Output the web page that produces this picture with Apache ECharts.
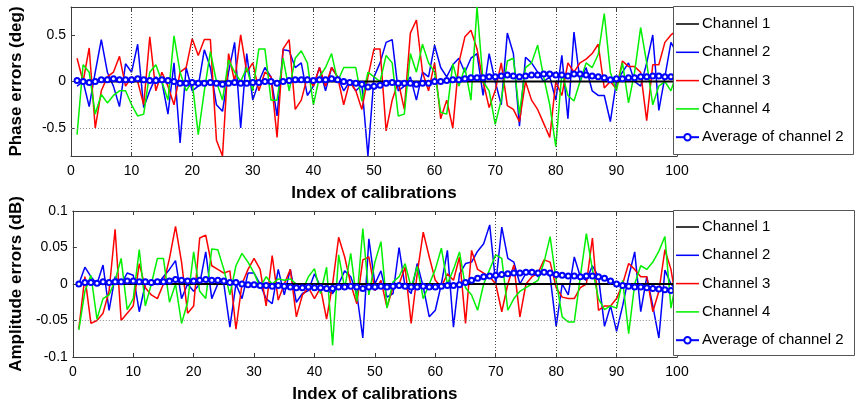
<!DOCTYPE html>
<html><head><meta charset="utf-8">
<script src="https://cdn.jsdelivr.net/npm/echarts@6/dist/echarts.min.js"></script>
<style>html,body{margin:0;padding:0;background:#fff}#c{width:857px;height:407px}</style>
</head><body><div id="c"></div>
<script>
// ---------- data ----------
const seriesNames = ['Channel 1', 'Channel 2', 'Channel 3', 'Channel 4', 'Average of channel 2'];
const xTitle = 'Index of calibrations';
const phaseTitle = 'Phase errors (deg)';
const ampTitle = 'Amplitude errors (dB)';
const phaseTicks = [-0.5, 0, 0.5];
const ampTicks = [-0.1, -0.05, 0, 0.05, 0.1];
const phaseGridX = [10, 20, 30, 40, 50, 60, 70, 80, 90];
const phaseGridY = [-0.5];
const ampGridX = [70, 80, 90];
const ampGridY = [-0.05];

const phaseCh1 = [0,0,0,0,0,0,0,0,0,0, 0,0,0,0,0,0,0,0,0,0, 0,0,0,0,0,0,0,0,0,0, 0,0,0,0,0,0,0,0,0,0, 0,0,0,0,0,0,0,0,0,0,
  0,0,0,0,0,0,0,0,0,0, 0,0,0,0,0,0,0,0,0,0, 0,0,0,0,0,0,0,0,0,0, 0,0,0,0,0,0,0,0,0,0, 0,0,0,0,0,0,0,0,0,0];
const phaseCh2 = [-0.05,0.0,-0.27,0.1,0.45,0.1,-0.05,-0.27,0.19,0.1,
  0.4,-0.28,-0.1,0.05,0.0,-0.35,0.2,-0.66,0.15,-0.1,
  -0.05,0.34,0.15,-0.25,-0.32,0.1,0.42,-0.5,0.3,-0.2,
  0.0,0.15,0.05,-0.37,0.34,0.33,0.15,0.2,-0.15,-0.05,
  0.15,-0.1,0.15,0.05,-0.1,0.0,-0.1,-0.04,-0.8,0.05,
  0.2,0.42,0.45,-0.1,-0.05,0.05,-0.2,0.1,0.05,0.39,
  0.15,0.05,0.18,0.25,0.1,0.25,0.3,-0.15,0.3,0.0,
  -0.25,0.52,0.3,-0.48,0.26,0.2,0.1,0.0,0.05,-0.2,
  0.28,-0.4,0.53,0.0,0.15,-0.1,-0.15,-0.15,-0.43,0.0,
  0.1,0.2,0.0,-0.05,0.2,0.5,-0.31,0.05,0.42,0.3];
const phaseCh3 = [0.25,0.0,0.36,-0.5,-0.1,0.05,0.1,0.27,-0.05,0.05,
  0.0,-0.25,0.48,-0.1,0.1,-0.05,-0.25,0.1,0.15,0.46,
  0.28,0.45,0.45,-0.63,-0.8,0.3,0.0,0.5,0.1,0.2,
  -0.1,0.1,0.05,-0.6,0.35,0.45,-0.3,-0.2,0.05,-0.05,
  0.15,-0.05,0.15,0.05,-0.25,0.0,-0.1,-0.3,0.05,0.35,
  0.35,-0.53,-0.2,0.0,-0.3,0.52,0.66,0.1,-0.1,0.2,
  -0.4,-0.2,-0.5,0.2,0.48,0.55,0.35,0.0,-0.28,-0.1,
  0.2,-0.26,-0.3,-0.43,0.0,-0.2,-0.3,-0.45,-0.6,0.0,
  -0.15,0.2,0.1,0.2,0.24,0.3,0.4,-0.07,0.0,-0.08,
  0.22,0.16,0.16,0.1,-0.42,0.18,0.18,0.42,0.5,0.55];
const phaseCh4 = [-0.57,0.18,0.1,-0.35,-0.14,-0.23,-0.15,-0.1,-0.1,-0.25,
  -0.37,-0.35,0.1,0.18,0.0,-0.2,0.49,0.1,-0.1,0.0,
  -0.57,-0.1,0.32,0.0,-0.2,0.23,0.1,0.0,0.15,-0.1,
  0.35,0.35,-0.2,-0.2,0.25,-0.1,0.25,0.33,0.2,-0.25,
  0.05,0.15,0.3,0.0,0.15,0.15,0.15,-0.21,0.1,0.05,
  0.0,0.28,0.2,-0.37,-0.35,0.3,0.1,0.4,0.2,0.1,
  -0.33,-0.35,0.19,-0.05,0.15,-0.2,0.8,0.0,-0.1,-0.46,
  -0.2,0.22,0.25,-0.35,0.15,0.2,0.39,0.05,-0.25,-0.7,
  0.1,-0.15,-0.21,0.0,0.2,0.15,0.29,0.73,0.1,-0.1,
  0.2,-0.23,0.1,0.58,0.2,-0.25,-0.05,0.0,-0.1,0.1];
const phaseAvg = [0.01,0.0,-0.01,0.0,0.02,0.02,0.03,0.02,0.02,0.02,
  0.03,0.02,0.01,0.01,0.02,0.01,0.0,-0.02,-0.02,-0.01,
  -0.02,-0.02,-0.01,-0.02,-0.03,-0.02,-0.01,-0.02,-0.02,-0.01,
  -0.01,0.0,0.0,-0.02,0.0,0.01,0.02,0.02,0.02,0.01,
  0.02,0.02,0.03,0.02,0.0,-0.01,-0.02,-0.03,-0.06,-0.05,
  -0.04,-0.02,-0.01,-0.02,-0.02,-0.02,-0.03,-0.02,-0.02,0.0,
  0.0,0.01,0.02,0.02,0.03,0.04,0.04,0.04,0.05,0.05,
  0.06,0.07,0.06,0.05,0.06,0.07,0.07,0.08,0.08,0.07,
  0.07,0.06,0.08,0.08,0.07,0.06,0.05,0.04,0.02,0.03,
  0.03,0.04,0.04,0.05,0.05,0.06,0.06,0.05,0.05,0.05];

const ampCh1 = [0,0,0,0,0,0,0,0,0,0, 0,0,0,0,0,0,0,0,0,0, 0,0,0,0,0,0,0,0,0,0, 0,0,0,0,0,0,0,0,0,0, 0,0,0,0,0,0,0,0,0,0,
  0,0,0,0,0,0,0,0,0,0, 0,0,0,0,0,0,0,0,0,0, 0,0,0,0,0,0,0,0,0,0, 0,0,0,0,0,0,0,0,0,0, 0,0,0,0,0,0,0,0,0,0];
const ampCh2 = [0.0,0.023,0.01,0.0,0.026,-0.036,0.01,0.0,0.015,0.012,
  -0.038,0.0,0.0,0.0,0.01,0.02,0.032,-0.02,0.0,-0.01,
  0.0,0.044,-0.02,0.0,0.0,-0.059,0.0,-0.02,0.015,0.015,
  0.0,-0.02,-0.027,0.02,-0.015,0.02,-0.025,-0.013,-0.009,0.014,
  -0.004,-0.009,-0.013,0.0,0.018,0.01,-0.013,-0.074,0.062,0.0,
  0.018,-0.018,-0.013,0.05,-0.004,-0.013,0.028,-0.004,-0.045,-0.036,
  0.0,0.046,-0.059,0.014,0.028,0.03,0.045,0.055,0.081,0.0,
  0.078,0.035,0.03,0.0,0.015,0.02,0.01,0.02,0.01,-0.058,
  0.0,-0.015,0.037,0.01,0.005,0.025,0.01,-0.058,-0.03,-0.065,
  -0.03,0.01,0.044,-0.038,0.01,-0.03,-0.074,0.019,0.0,-0.01];
const ampCh3 = [-0.061,0.01,-0.054,-0.05,-0.04,-0.01,0.075,-0.05,-0.04,-0.03,
  0.028,-0.005,-0.015,-0.02,0.0,0.035,0.079,0.03,-0.04,-0.03,
  0.063,0.067,0.025,0.02,0.015,0.018,-0.062,0.0,0.02,0.035,
  0.02,-0.03,0.039,-0.022,0.0,0.02,-0.045,-0.015,-0.005,-0.02,
  -0.005,-0.048,0.0,0.064,0.037,0.0,-0.027,0.033,0.037,-0.009,
  0.005,-0.032,-0.004,0.0,0.023,-0.054,0.014,0.071,0.037,0.005,
  -0.004,0.014,0.005,0.037,-0.054,0.046,0.02,0.015,0.01,0.0,
  -0.038,0.0,0.026,-0.045,0.0,0.01,0.015,0.033,0.03,-0.005,
  -0.018,-0.02,-0.02,-0.005,0.0,0.063,-0.036,-0.03,-0.03,-0.02,
  0.0,0.028,0.02,0.01,0.01,-0.038,-0.01,0.047,0.02,-0.03];
const ampCh4 = [-0.063,-0.01,0.012,-0.048,-0.02,-0.015,0.005,0.035,-0.035,-0.02,
  0.047,-0.03,0.0,0.035,0.035,-0.025,0.0,-0.054,-0.025,0.044,
  -0.01,-0.02,0.048,0.047,0.02,-0.015,0.025,0.042,0.03,0.015,
  -0.005,0.01,0.0,0.007,0.005,0.007,0.0,-0.009,0.01,0.021,
  -0.013,0.023,-0.084,0.04,-0.006,0.042,-0.024,0.076,-0.015,0.03,
  0.058,-0.033,0.003,0.01,0.028,-0.005,0.024,-0.02,0.0,0.02,
  0.049,0.0,0.02,0.044,-0.005,-0.015,-0.036,0.0,0.02,0.04,
  0.035,-0.036,-0.02,-0.01,-0.005,0.0,0.005,0.03,0.065,0.005,
  -0.045,-0.052,-0.052,0.01,0.069,0.02,-0.02,-0.035,-0.03,-0.033,
  0.005,-0.068,0.0,0.025,0.02,0.03,0.045,0.065,-0.033,0.01];
const ampAvg = [0.0,0.002,0.002,0.001,0.003,0.002,0.003,0.003,0.004,0.004,
  0.003,0.003,0.002,0.003,0.003,0.004,0.006,0.005,0.004,0.004,
  0.005,0.006,0.005,0.005,0.004,0.002,0.002,0.0,-0.001,-0.001,
  -0.002,-0.002,-0.003,-0.002,-0.003,-0.004,-0.005,-0.005,-0.004,-0.005,
  -0.005,-0.006,-0.006,-0.004,-0.004,-0.003,-0.004,-0.006,-0.004,-0.004,
  -0.003,-0.004,-0.003,-0.002,-0.003,-0.004,-0.004,-0.003,-0.004,-0.004,
  -0.003,-0.002,-0.002,-0.001,0.002,0.005,0.008,0.01,0.011,0.012,
  0.013,0.014,0.015,0.015,0.016,0.016,0.015,0.016,0.015,0.013,
  0.012,0.011,0.011,0.01,0.011,0.011,0.01,0.008,0.004,0.0,
  -0.002,-0.003,-0.004,-0.004,-0.005,-0.006,-0.007,-0.008,-0.009,-0.008];

// ---------- chart ----------
const FONT = '"Liberation Sans", Arial, sans-serif';
const AX = '#3c3c3c';
const colors = ['#000000', '#0000ff', '#ff0000', '#00f000', '#0000ff'];
const grids = [
  { left: 68, top: 7, width: 609, height: 149 },
  { left: 68, top: 211, width: 609, height: 146 }
];
const pts = arr => arr.map((v, i) => [i + 1, v]);
const LINE_ICON = 'path://M0,0H24V1.6H0Z';

function xAxes(g, title) {
  return [{
    type: 'value', gridIndex: g, min: 0, max: 100, interval: 10, position: 'bottom',
    name: title, nameLocation: 'middle', nameGap: 29,
    nameTextStyle: { fontFamily: FONT, fontSize: 17, fontWeight: 'bold', color: '#000' },
    axisLine: { show: true, onZero: false, lineStyle: { color: AX, width: 1 } },
    axisTick: { show: true, inside: true, length: 4, lineStyle: { color: AX } },
    axisLabel: { fontFamily: FONT, fontSize: 14, color: '#000', margin: 8 },
    splitLine: { show: false }
  }, {
    type: 'value', gridIndex: g, min: 0, max: 100, interval: 10, position: 'top',
    axisLine: { show: true, onZero: false, lineStyle: { color: AX, width: 1 } },
    axisTick: { show: true, inside: true, length: 4, lineStyle: { color: AX } },
    axisLabel: { show: false }, splitLine: { show: false }
  }];
}
function yAxes(g, title, min, max, ticks) {
  return [{
    type: 'value', gridIndex: g, min: min, max: max, position: 'left',
    name: title, nameLocation: 'middle', nameGap: 46, nameRotate: 90,
    nameTextStyle: { fontFamily: FONT, fontSize: 17, fontWeight: 'bold', color: '#000' },
    axisLine: { show: true, onZero: false, lineStyle: { color: AX, width: 1 } },
    axisTick: { show: true, inside: true, length: 4, customValues: ticks, lineStyle: { color: AX } },
    axisLabel: { fontFamily: FONT, fontSize: 14, color: '#000', margin: 5, customValues: ticks },
    splitLine: { show: false }
  }, {
    type: 'value', gridIndex: g, min: min, max: max, position: 'right',
    axisLine: { show: true, onZero: false, lineStyle: { color: AX, width: 1 } },
    axisTick: { show: true, inside: true, length: 4, customValues: ticks, lineStyle: { color: AX } },
    axisLabel: { show: false }, splitLine: { show: false }
  }];
}

function seriesFor(g, ch1, ch2, ch3, ch4, avg, gx, gy) {
  const xi = 2 * g, yi = 2 * g;
  const base = { type: 'line', xAxisIndex: xi, yAxisIndex: yi, animation: false, symbol: 'none', showSymbol: false };
  const gridLines = [];
  gx.forEach(v => gridLines.push({ xAxis: v, lineStyle: { color: '#444', type: [1, 2] } }));
  gy.forEach(v => gridLines.push({ yAxis: v, lineStyle: { color: '#888', type: [1, 2] } }));
  return [
    Object.assign({}, base, { name: '_grid' + g, data: [], z: 1,
      markLine: { silent: true, symbol: 'none', label: { show: false }, animation: false,
        lineStyle: { width: 1 }, data: gridLines } }),
    Object.assign({}, base, { name: seriesNames[1], data: pts(ch2), z: 3, lineStyle: { color: colors[1], width: 1.5 }, itemStyle: { color: colors[1] } }),
    Object.assign({}, base, { name: seriesNames[2], data: pts(ch3), z: 3, lineStyle: { color: colors[2], width: 1.5 }, itemStyle: { color: colors[2] } }),
    Object.assign({}, base, { name: seriesNames[3], data: pts(ch4), z: 3, lineStyle: { color: colors[3], width: 1.5 }, itemStyle: { color: colors[3] } }),
    Object.assign({}, base, { name: seriesNames[0], data: pts(ch1), z: 4, lineStyle: { color: colors[0], width: 2 }, itemStyle: { color: colors[0] } }),
    Object.assign({}, base, { name: seriesNames[4], data: pts(avg), z: 5, symbol: 'emptyCircle', showSymbol: true, symbolSize: 5,
      lineStyle: { color: colors[4], width: 1.6 }, itemStyle: { color: colors[4], borderColor: colors[4], borderWidth: 1.2 } })
  ];
}

function legendFor(top) {
  return {
    show: true, orient: 'vertical', left: 675, top: top, padding: 0, itemGap: 10.3,
    itemWidth: 23, itemHeight: 8, z: 20,
    data: [
      { name: seriesNames[0], icon: LINE_ICON },
      { name: seriesNames[1], icon: LINE_ICON },
      { name: seriesNames[2], icon: LINE_ICON },
      { name: seriesNames[3], icon: LINE_ICON },
      { name: seriesNames[4] }
    ],
    textStyle: { fontFamily: FONT, fontSize: 15, color: '#000', lineHeight: 18, padding: [0, 0, 0, -2] },
    inactiveColor: '#000'
  };
}

const chart = echarts.init(document.getElementById('c'), null, { renderer: 'canvas' });
const opt = {
  backgroundColor: '#fff',
  animation: false,
  grid: grids.map(g => Object.assign({ show: false, containLabel: false }, g)),
  xAxis: xAxes(0, xTitle).concat(xAxes(1, xTitle)),
  yAxis: yAxes(0, phaseTitle, -0.8, 0.8, phaseTicks).concat(yAxes(1, ampTitle, -0.1, 0.1, ampTicks)),
  series: seriesFor(0, phaseCh1, phaseCh2, phaseCh3, phaseCh4, phaseAvg, phaseGridX, phaseGridY)
    .concat(seriesFor(1, ampCh1, ampCh2, ampCh3, ampCh4, ampAvg, ampGridX, ampGridY)),
  legend: [
    Object.assign(legendFor(15), { id: 'lg0' }),
    Object.assign(legendFor(218), { id: 'lg1' })
  ],
  graphic: [
    { type: 'rect', z: 15, shape: { x: 673.5, y: 6.5, width: 180, height: 148 }, style: { fill: '#fff', stroke: '#555', lineWidth: 1 } },
    { type: 'rect', z: 15, shape: { x: 673.5, y: 210.5, width: 181, height: 145 }, style: { fill: '#fff', stroke: '#555', lineWidth: 1 } }
  ]
};
chart.setOption(opt);
</script></body></html>
